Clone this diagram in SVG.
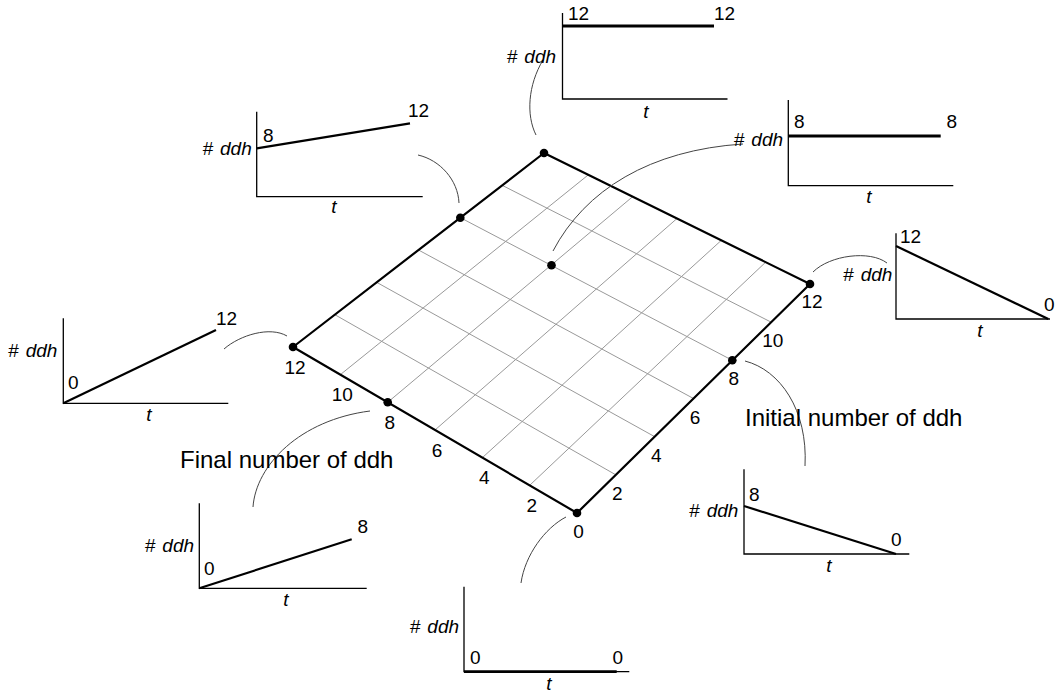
<svg xmlns="http://www.w3.org/2000/svg" width="1058" height="696" viewBox="0 0 1058 696">
<style>
text{font-family:"Liberation Sans",Arial,sans-serif;font-size:19px;fill:#000}
.it{font-style:italic}
.title{font-size:24px}
.mid{text-anchor:middle}
.axis{fill:none;stroke:#000;stroke-width:1.3}
.val{fill:none;stroke:#000;stroke-width:2.2}
.flat{fill:none;stroke:#000;stroke-width:2.8}
.grid{stroke:#999;stroke-width:1}
.edge{fill:none;stroke:#000;stroke-width:2.2;stroke-linejoin:round}
.conn{fill:none;stroke:#444;stroke-width:1}
.dot{fill:#000}
</style>
<rect width="1058" height="696" fill="#fff"/>
<g id="grid">
<g class="grid">
<line x1="615.83" y1="474.83" x2="334.83" y2="314.67"/>
<line x1="654.67" y1="436.67" x2="376.67" y2="282.33"/>
<line x1="693.5" y1="398.5" x2="418.5" y2="250"/>
<line x1="732.33" y1="360.33" x2="460.33" y2="217.67"/>
<line x1="771.17" y1="322.17" x2="502.17" y2="185.33"/>
<line x1="529.67" y1="485.33" x2="765.67" y2="262.17"/>
<line x1="482.33" y1="457.67" x2="721.33" y2="240.33"/>
<line x1="435" y1="430" x2="677" y2="218.5"/>
<line x1="387.67" y1="402.33" x2="632.67" y2="196.67"/>
<line x1="340.33" y1="374.67" x2="588.33" y2="174.83"/>
</g>
<path class="edge" d="M577,513 L810,284 L544,153 L293,347 Z"/>
<text class="mid" x="578.5" y="538">0</text>
<text class="mid" x="617.3" y="499.8">2</text>
<text class="mid" x="656.2" y="461.7">4</text>
<text class="mid" x="695" y="423.5">6</text>
<text class="mid" x="733.8" y="385.3">8</text>
<text class="mid" x="772.7" y="347.2">10</text>
<text class="mid" x="812" y="308">12</text>
<text class="mid" x="531.7" y="511.8">2</text>
<text class="mid" x="484.3" y="484.2">4</text>
<text class="mid" x="437" y="456.5">6</text>
<text class="mid" x="389.7" y="428.8">8</text>
<text class="mid" x="342.3" y="401.2">10</text>
<text class="mid" x="295" y="373.5">12</text>
</g>
<g id="points">
<circle class="dot" cx="544" cy="153" r="4.3"/>
<circle class="dot" cx="810" cy="284" r="4.3"/>
<circle class="dot" cx="577" cy="513" r="4.3"/>
<circle class="dot" cx="293" cy="347" r="4.3"/>
<circle class="dot" cx="460.3" cy="217.7" r="4.3"/>
<circle class="dot" cx="551.5" cy="265.2" r="4.3"/>
<circle class="dot" cx="387.7" cy="402.3" r="4.3"/>
<circle class="dot" cx="732.3" cy="360.3" r="4.3"/>
</g>
<g id="connectors">
<path class="conn" d="M543,60 C528,85 526,115 536,135"/>
<path class="conn" d="M418,155 C440,160 458,180 459,203"/>
<path class="conn" d="M553,251 C585,190 650,150 743,144"/>
<path class="conn" d="M813,272 C830,255 870,250 887,263"/>
<path class="conn" d="M224,349 C240,335 270,326 287,336"/>
<path class="conn" d="M253,507 C256,465 300,420 370,411"/>
<path class="conn" d="M566,517 C545,528 525,555 521,583"/>
<path class="conn" d="M745,361 C780,370 808,410 805,466"/>
</g>
<g id="chart-12-12">
<path class="axis" d="M562.5,13 V99 H727.5"/>
<path class="flat" d="M562.5,26 H714"/>
<text x="568" y="19.5">12</text>
<text x="714" y="19.5">12</text>
<text x="507" y="62.5"># <tspan class="it" dx="1.5">ddh</tspan></text>
<text class="it mid" x="646" y="118">t</text>
</g>
<g id="chart-8-12">
<path class="axis" d="M256.7,111.7 V196.7 H422.7"/>
<path class="val" d="M256.7,148.3 L410,123.3"/>
<text x="263" y="141.7">8</text>
<text x="408" y="117.3">12</text>
<text x="202.7" y="155"># <tspan class="it" dx="1.5">ddh</tspan></text>
<text class="it mid" x="334" y="213">t</text>
</g>
<g id="chart-8-8">
<path class="axis" d="M788.3,100 V185.7 H953.3"/>
<path class="flat" d="M788.3,136 H940.7"/>
<text x="794" y="128.3">8</text>
<text x="946.5" y="128.3">8</text>
<text x="734" y="146"># <tspan class="it" dx="1.5">ddh</tspan></text>
<text class="it mid" x="869" y="203">t</text>
</g>
<g id="chart-12-0">
<path class="axis" d="M896,233.3 V319 H1050"/>
<path class="val" d="M896,246 L1048.3,319"/>
<text x="900" y="243.3">12</text>
<text x="1044" y="310.7">0</text>
<text x="843.3" y="280.7"># <tspan class="it" dx="1.5">ddh</tspan></text>
<text class="it mid" x="980" y="337">t</text>
</g>
<g id="chart-0-12">
<path class="axis" d="M63.3,318.3 V403.3 H228.3"/>
<path class="val" d="M63.3,403.3 L216,330"/>
<text x="216" y="325">12</text>
<text x="68" y="389.3">0</text>
<text x="8.3" y="356.7"># <tspan class="it" dx="1.5">ddh</tspan></text>
<text class="it mid" x="149" y="421">t</text>
</g>
<g id="chart-0-8">
<path class="axis" d="M199.3,503.3 V588.3 H366.7"/>
<path class="val" d="M199.3,588.3 L351.7,539.3"/>
<text x="357.5" y="533.3">8</text>
<text x="204" y="575">0</text>
<text x="145" y="551.7"># <tspan class="it" dx="1.5">ddh</tspan></text>
<text class="it mid" x="286" y="606">t</text>
<text class="title" x="180" y="468.3">Final number of ddh</text>
</g>
<g id="chart-0-0">
<path class="axis" d="M464,586.7 V671.7 H629.3"/>
<path class="flat" d="M464,671.7 H616.7"/>
<text x="470" y="664.3">0</text>
<text x="612.5" y="664.3">0</text>
<text x="410" y="633.3"># <tspan class="it" dx="1.5">ddh</tspan></text>
<text class="it mid" x="549" y="690">t</text>
</g>
<g id="chart-8-0">
<path class="axis" d="M744,469.3 V554 H909.3"/>
<path class="val" d="M744,506 L896,554"/>
<text x="749" y="500.7">8</text>
<text x="891" y="545.7">0</text>
<text x="689.3" y="516.7"># <tspan class="it" dx="1.5">ddh</tspan></text>
<text class="it mid" x="829" y="572">t</text>
<text class="title" x="745" y="426">Initial number of ddh</text>
</g>
</svg>
